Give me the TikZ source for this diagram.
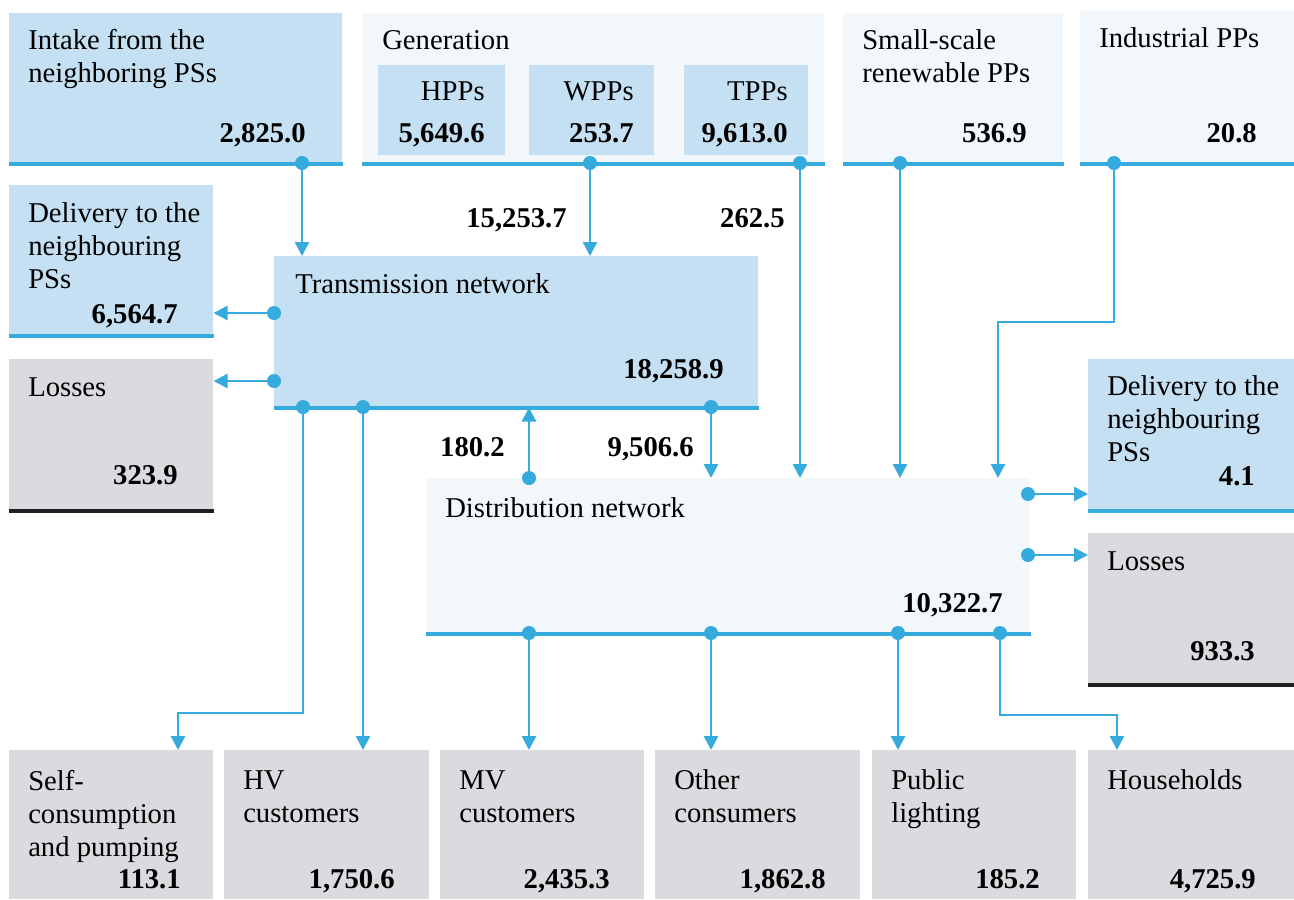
\documentclass[tikz,border=0pt]{standalone}
\usepackage{fontspec}
\setmainfont{Liberation Serif}
\usetikzlibrary{arrows.meta}

\definecolor{flowblue}{RGB}{52,170,221}
\definecolor{boxblue}{RGB}{196,224,242}
\definecolor{boxpale}{RGB}{242,247,252}
\definecolor{boxgray}{RGB}{218,218,223}
\definecolor{baseblack}{RGB}{35,31,32}

\newcommand{\lbl}{\fontsize{21.5}{24.75}\selectfont}

\tikzset{
  sz/.style 2 args={minimum width=#1*0.75pt, minimum height=#2*0.75pt},
  blu/.style={fill=boxblue, anchor=north west, inner sep=0pt},
  pale/.style={fill=boxpale, anchor=north west, inner sep=0pt},
  gry/.style={fill=boxgray, anchor=north west, inner sep=0pt},
  bluebase/.style={draw=flowblue, line width=3pt},
  blackbase/.style={draw=baseblack, line width=3pt},
  flow/.style={draw=flowblue, line width=1.9pt, -{Triangle[width=10.5pt,length=10.5pt]}},
  dot/.style={circle, fill=flowblue, inner sep=0pt, minimum size=10.5pt},
  txt/.style={anchor=base west, inner sep=0pt, align=left, font=\lbl},
  num/.style={anchor=base east, inner sep=0pt, font=\lbl\bfseries},
}

\begin{document}
\begin{tikzpicture}[x=0.75pt,y=0.75pt,yscale=-1,xscale=1]
    \useasboundingbox (0,0) rectangle (1294,899);

    %Boxes, top row
    \node[blu, sz={333}{150}] (intake) at (9,13) {};
    \node[pale, sz={462}{150}] (gen) at (362,13) {};
    \node[blu, sz={127}{90}] (hpp) at (378,65) {};
    \node[blu, sz={125}{90}] (wpp) at (529,65) {};
    \node[blu, sz={124}{90}] (tpp) at (684,65) {};
    \node[pale, sz={220}{150}] (small) at (843,13) {};
    \node[pale, sz={214}{152}] (indus) at (1080,11) {};
    %Boxes, middle
    \node[blu, sz={204}{150}] (delivl) at (9,185) {};
    \node[gry, sz={204}{151}] (lossl) at (9,359) {};
    \node[blu, sz={484}{151}] (trans) at (274,256) {};
    \node[pale, sz={604}{155}] (dist) at (426,478) {};
    \node[blu, sz={206}{151}] (delivr) at (1088,359) {};
    \node[gry, sz={206}{151}] (lossr) at (1088,533) {};
    %Boxes, bottom row
    \node[gry, sz={204}{149}] (self) at (9,750) {};
    \node[gry, sz={205}{149}] (hv) at (224,750) {};
    \node[gry, sz={204}{149}] (mv) at (440,750) {};
    \node[gry, sz={205}{149}] (other) at (655,750) {};
    \node[gry, sz={204}{149}] (light) at (872,750) {};
    \node[gry, sz={206}{149}] (house) at (1088,750) {};

    %Base lines
    \foreach \b in {intake,gen,small,indus,delivl,trans,dist,delivr}
      \draw[bluebase] (\b.south west) -- (\b.south east);
    \foreach \b in {lossl,lossr}
      \draw[blackbase] (\b.south west) -- (\b.south east);

    %Dots
    \node[dot] (d1) at (302,163) {};
    \node[dot] (d2) at (590,163) {};
    \node[dot] (d3) at (800,163) {};
    \node[dot] (d4) at (900,163) {};
    \node[dot] (d5) at (1114,163) {};
    \node[dot] (t1) at (274,313) {};
    \node[dot] (t2) at (274,381) {};
    \node[dot] (t3) at (303,407) {};
    \node[dot] (t4) at (363,407) {};
    \node[dot] (t5) at (711,407) {};
    \node[dot] (u1) at (529,478) {};
    \node[dot] (r1) at (1028,494) {};
    \node[dot] (r2) at (1028,555) {};
    \node[dot] (s1) at (529,633) {};
    \node[dot] (s2) at (711,633) {};
    \node[dot] (s3) at (898,633) {};
    \node[dot] (s4) at (1000,633) {};
    \coordinate (k1) at (998,322);
    \coordinate (k2) at (178,713);
    \coordinate (k3) at (1117,715);

    %Connectors
    \draw[flow] (d1) -- (d1 |- trans.north);
    \draw[flow] (d2) -- (d2 |- trans.north);
    \draw[flow] (d3) -- (d3 |- dist.north);
    \draw[flow] (d4) -- (d4 |- dist.north);
    \draw[flow] (d5) |- (k1) -- (k1 |- dist.north);
    \draw[flow] (t1) -- (t1 -| delivl.east);
    \draw[flow] (t2) -- (t2 -| lossl.east);
    \draw[flow] (t3) |- (k2) -- (k2 |- self.north);
    \draw[flow] (t4) -- (t4 |- hv.north);
    \draw[flow] (t5) -- (t5 |- dist.north);
    \draw[flow] (u1) -- (u1 |- trans.south);
    \draw[flow] (r1) -- (r1 -| delivr.west);
    \draw[flow] (r2) -- (r2 -| lossr.west);
    \draw[flow] (s1) -- (s1 |- mv.north);
    \draw[flow] (s2) -- (s2 |- other.north);
    \draw[flow] (s3) -- (s3 |- light.north);
    \draw[flow] (s4) |- (k3) -- (k3 |- house.north);

    % Text Node (base = last line)
    \node[txt] (intaket) at (28,83) {Intake from the\\neighboring PSs};
    \node[num] (intaken) at (306,142) {2,825.0};
    \node[txt] (gent) at (382,50) {Generation};
    \node[num] (hppt) at (485,100) {\mdseries HPPs};
    \node[num] (hppn) at (485,142) {5,649.6};
    \node[num] (wppt) at (634,100) {\mdseries WPPs};
    \node[num] (wppn) at (634,142) {253.7};
    \node[num] (tppt) at (788,100) {\mdseries TPPs};
    \node[num] (tppn) at (788,142) {9,613.0};
    \node[txt] (smallt) at (862,83) {Small-scale\\renewable PPs};
    \node[num] (smalln) at (1027,142) {536.9};
    \node[txt] (indust) at (1099,48) {Industrial PPs};
    \node[num] (indusn) at (1257,142) {20.8};
    % Text Node
    \node[txt] (delivlt) at (28,288) {Delivery to the\\neighbouring\\PSs};
    \node[num] (delivln) at (178,323) {6,564.7};
    \node[txt] (losslt) at (28,396) {Losses};
    \node[num] (lossln) at (178,484) {323.9};
    \node[txt] (transt) at (295,293) {Transmission network};
    \node[num] (transn) at (724,378) {18,258.9};
    \node[txt] (distt) at (445,517) {Distribution network};
    \node[num] (distn) at (1003,612) {10,322.7};
    \node[txt] (delivrt) at (1107,461) {Delivery to the\\neighbouring\\PSs};
    \node[num] (delivrn) at (1255,485) {4.1};
    \node[txt] (lossrt) at (1107,570) {Losses};
    \node[num] (lossrn) at (1255,660) {933.3};
    % Flow values
    \node[num] (f1) at (567,227) {15,253.7};
    \node[num] (f2) at (785,227) {262.5};
    \node[num] (f3) at (505,456) {180.2};
    \node[num] (f4) at (694,456) {9,506.6};
    % Text Node
    \node[txt] (selft) at (28,856) {Self-\\consumption\\and pumping};
    \node[num] (selfn) at (181,888) {113.1};
    \node[txt] (hvt) at (243,822) {HV\\customers};
    \node[num] (hvn) at (395,888) {1,750.6};
    \node[txt] (mvt) at (459,822) {MV\\customers};
    \node[num] (mvn) at (610,888) {2,435.3};
    \node[txt] (othert) at (674,822) {Other\\consumers};
    \node[num] (othern) at (826,888) {1,862.8};
    \node[txt] (lightt) at (891,822) {Public\\lighting};
    \node[num] (lightn) at (1040,888) {185.2};
    \node[txt] (houset) at (1107,789) {Households};
    \node[num] (housen) at (1256,888) {4,725.9};
\end{tikzpicture}
\end{document}
